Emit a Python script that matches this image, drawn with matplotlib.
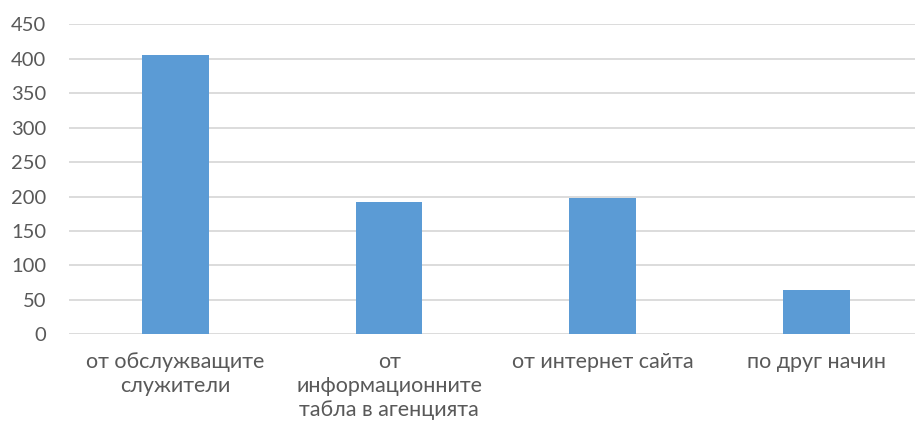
import matplotlib.pyplot as plt
import numpy as np

plt.rcParams['font.family'] = ['Lato', 'Open Sans', 'DejaVu Sans']

categories = ['от обслужващите\nслужители',
              'от\nинформационните\nтабла в агенцията',
              'от интернет сайта',
              'по друг начин']
values = [406, 192, 198, 65]
yticks = list(range(0, 451, 50))

fig = plt.figure(figsize=(9.15, 4.34), dpi=100)
# right edge runs slightly past the figure, gridlines go to the border
ax = fig.add_axes([0.0751, 0.2297, 0.9337, 0.7141])

x = np.arange(len(categories))
ax.bar(x, values, width=0.312, color='#5b9bd5', zorder=3)

ax.set_xlim(-0.5, len(categories) - 0.5)
ax.set_ylim(0, 450)
ax.set_yticks(yticks)
ax.set_xticks(x)
ax.set_xticklabels(categories, linespacing=1.25)

for s in ax.spines.values():
    s.set_visible(False)
ax.grid(axis='y', color='#d9d9d9', linewidth=1.3, zorder=0)
ax.tick_params(axis='both', length=0, colors='#595959')
ax.tick_params(axis='y', pad=16, labelsize=14.5)
ax.tick_params(axis='x', pad=13, labelsize=15.5)

fig.savefig('out.png', dpi=100)
